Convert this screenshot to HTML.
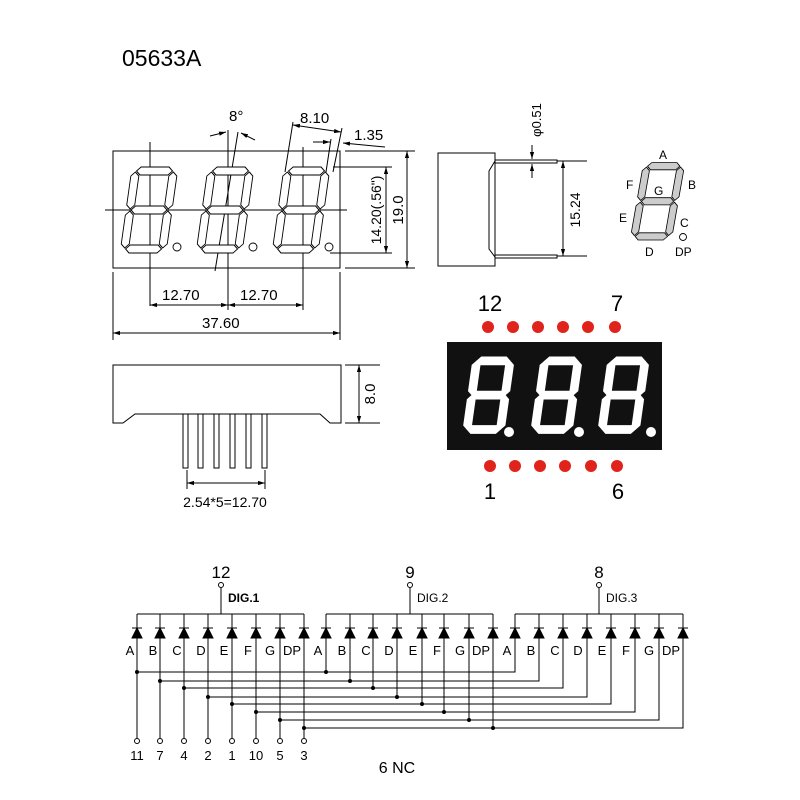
<!DOCTYPE html>
<html><head><meta charset="utf-8"><style>
html,body{margin:0;padding:0;background:#fff;}
svg{display:block;font-family:"Liberation Sans",Arial,sans-serif;}
</style></head><body>
<svg width="800" height="800" viewBox="0 0 800 800" xmlns="http://www.w3.org/2000/svg">
<defs>
<g id="dg">
<polygon points="5,-82 9,-86 37,-86 41,-82 37,-78 9,-78"/>
<polygon points="5,-43 9,-47 37,-47 41,-43 37,-39 9,-39"/>
<polygon points="5,-4 9,-8 37,-8 41,-4 37,0 9,0"/>
<polygon points="4,-81 8,-77 8,-48 4,-44 0,-48 0,-77"/>
<polygon points="4,-42 8,-38 8,-9 4,-5 0,-9 0,-38"/>
<polygon points="42,-81 46,-77 46,-48 42,-44 38,-48 38,-77"/>
<polygon points="42,-42 46,-38 46,-9 42,-5 38,-9 38,-38"/>
</g>
<marker id="ar" viewBox="0 0 10 10" refX="10" refY="5" markerWidth="7" markerHeight="7" orient="auto-start-reverse"><path d="M0,2 L10,5 L0,8 z" fill="#000"/></marker>
</defs>
<text x="122" y="66" font-size="23" fill="#000">05633A</text>

<!-- front view -->
<g fill="none" stroke="#000" stroke-width="1">
<rect x="113" y="151" width="227" height="117"/>
<line x1="105" y1="210" x2="347" y2="210"/>
<line x1="150" y1="142" x2="150" y2="306"/>
<line x1="228" y1="130" x2="228" y2="310"/>
<line x1="303" y1="147" x2="303" y2="310"/>
<line x1="215" y1="271" x2="238" y2="132"/>
<line x1="150" y1="305" x2="228" y2="305" marker-start="url(#ar)" marker-end="url(#ar)"/>
<line x1="228" y1="305" x2="303" y2="305" marker-start="url(#ar)" marker-end="url(#ar)"/>
<line x1="113" y1="272" x2="113" y2="340"/>
<line x1="340" y1="272" x2="340" y2="340"/>
<line x1="113" y1="333" x2="340" y2="333" marker-start="url(#ar)" marker-end="url(#ar)"/>
<line x1="345" y1="151" x2="415" y2="151"/>
<line x1="345" y1="268" x2="415" y2="268"/>
<line x1="333" y1="167" x2="392" y2="167"/>
<line x1="330" y1="253" x2="392" y2="253"/>
<line x1="386" y1="167" x2="386" y2="253" marker-start="url(#ar)" marker-end="url(#ar)"/>
<line x1="407" y1="151" x2="407" y2="268" marker-start="url(#ar)" marker-end="url(#ar)"/>
<line x1="210" y1="136" x2="226" y2="132" marker-end="url(#ar)"/>
<line x1="255" y1="140" x2="241" y2="133" marker-end="url(#ar)"/>
<line x1="293" y1="122" x2="285" y2="172"/>
<line x1="342" y1="128" x2="333" y2="172"/>
<line x1="293" y1="125" x2="341" y2="132" marker-start="url(#ar)" marker-end="url(#ar)"/>
<line x1="313" y1="142" x2="330" y2="142" marker-end="url(#ar)"/>
<line x1="331" y1="139" x2="326" y2="172"/>
<line x1="385" y1="147" x2="343" y2="143" marker-end="url(#ar)"/>
</g>
<g fill="#fff" stroke="#000" stroke-width="0.9">
<use href="#dg" transform="translate(120,253) skewX(-8)"/>
<use href="#dg" transform="translate(196,253) skewX(-8)"/>
<use href="#dg" transform="translate(272,253) skewX(-8)"/>
<circle cx="177" cy="247" r="4"/><circle cx="253" cy="247" r="4"/><circle cx="329" cy="247" r="4"/>
</g>
<g font-size="15" fill="#000">
<text x="229" y="121">8°</text>
<text x="300" y="123">8.10</text>
<text x="354" y="140">1.35</text>
<text x="162" y="300">12.70</text>
<text x="240" y="300">12.70</text>
<text x="202" y="328">37.60</text>
<text transform="translate(381,210) rotate(-90)" text-anchor="middle" font-size="14">14.20(.56")</text>
<text transform="translate(403,210) rotate(-90)" text-anchor="middle">19.0</text>
</g>

<!-- side view -->
<g fill="none" stroke="#000" stroke-width="1">
<rect x="438" y="153" width="57" height="113"/>
<path d="M495,161 L489,171 L489,249 L495,257"/>
<rect x="495" y="160" width="62" height="3"/>
<rect x="495" y="255" width="62" height="3"/>
<line x1="557" y1="161" x2="587" y2="161"/>
<line x1="557" y1="256" x2="587" y2="256"/>
<line x1="563" y1="161" x2="563" y2="256" marker-start="url(#ar)" marker-end="url(#ar)"/>
<line x1="532" y1="145" x2="532" y2="159" marker-end="url(#ar)"/>
<line x1="532" y1="178" x2="532" y2="164" marker-end="url(#ar)"/>
</g>
<text transform="translate(580,210) rotate(-90)" text-anchor="middle" font-size="14">15.24</text>
<text transform="translate(541,120) rotate(-90)" text-anchor="middle" font-size="13">φ0.51</text>

<!-- legend -->
<g fill="#ccc" stroke="#000" stroke-width="0.9">
<use href="#dg" transform="translate(630,240) scale(0.9) skewX(-10)"/>
<circle cx="683" cy="237" r="3.5" fill="#fff"/>
</g>
<g font-size="12" fill="#000">
<text x="659" y="159">A</text><text x="626" y="189">F</text><text x="654" y="195">G</text>
<text x="688" y="189">B</text><text x="619" y="222">E</text><text x="680" y="227">C</text>
<text x="645" y="256">D</text><text x="675" y="256">DP</text>
</g>

<!-- red display -->
<rect x="447" y="342" width="215" height="108" fill="#111"/>
<g fill="#fff" stroke="#fff" stroke-width="2">
<use href="#dg" transform="translate(463,433) scale(0.88) skewX(-8)"/>
<use href="#dg" transform="translate(531,433) scale(0.88) skewX(-8)"/>
<use href="#dg" transform="translate(598,433) scale(0.88) skewX(-8)"/>
</g>
<g fill="#fff"><circle cx="509" cy="432" r="5"/><circle cx="579" cy="432" r="5"/><circle cx="651" cy="432" r="5"/></g>
<g fill="#e0241b">
<circle cx="488" cy="327" r="6"/><circle cx="513" cy="327" r="6"/><circle cx="538" cy="327" r="6"/><circle cx="563" cy="327" r="6"/><circle cx="588" cy="327" r="6"/><circle cx="615" cy="327" r="6"/>
<circle cx="490" cy="466" r="6"/><circle cx="515" cy="466" r="6"/><circle cx="540" cy="466" r="6"/><circle cx="565" cy="466" r="6"/><circle cx="591" cy="466" r="6"/><circle cx="617" cy="466" r="6"/>
</g>
<g font-size="22" fill="#000" text-anchor="middle">
<text x="490" y="311">12</text><text x="617" y="311">7</text>
<text x="490" y="499">1</text><text x="618" y="499">6</text>
</g>

<!-- bottom view -->
<g fill="none" stroke="#000" stroke-width="1">
<path d="M113,365 L341,365 L341,423 L330,423 L320,414 L135,414 L123,423 L113,423 Z"/>
<rect x="183" y="414" width="5" height="54"/><rect x="198" y="414" width="5" height="54"/>
<rect x="214" y="414" width="5" height="54"/><rect x="230" y="414" width="5" height="54"/>
<rect x="246" y="414" width="5" height="54"/><rect x="262" y="414" width="5" height="54"/>
<line x1="187" y1="470" x2="187" y2="489"/><line x1="265" y1="470" x2="265" y2="489"/>
<line x1="187" y1="483" x2="265" y2="483" marker-start="url(#ar)" marker-end="url(#ar)"/>
<line x1="345" y1="365" x2="380" y2="365"/><line x1="345" y1="423" x2="380" y2="423"/>
<line x1="359" y1="365" x2="359" y2="423" marker-start="url(#ar)" marker-end="url(#ar)"/>
</g>
<text x="225" y="507" font-size="14" text-anchor="middle">2.54*5=12.70</text>
<text transform="translate(375,394) rotate(-90)" text-anchor="middle" font-size="15">8.0</text>

<!-- schematic -->
<g fill="none" stroke="#000" stroke-width="1">
<line x1="137" y1="614" x2="304" y2="614"/><line x1="221" y1="588" x2="221" y2="614"/>
<line x1="326" y1="614" x2="493" y2="614"/><line x1="410" y1="588" x2="410" y2="614"/>
<line x1="515" y1="614" x2="683" y2="614"/><line x1="599" y1="588" x2="599" y2="614"/>
<circle cx="221" cy="585" r="2.5" fill="#fff"/><circle cx="410" cy="585" r="2.5" fill="#fff"/><circle cx="599" cy="585" r="2.5" fill="#fff"/>
<line x1="137" y1="614" x2="137" y2="738"/><line x1="160" y1="614" x2="160" y2="738"/>
<line x1="184" y1="614" x2="184" y2="738"/><line x1="208" y1="614" x2="208" y2="738"/>
<line x1="232" y1="614" x2="232" y2="738"/><line x1="256" y1="614" x2="256" y2="738"/>
<line x1="280" y1="614" x2="280" y2="738"/><line x1="304" y1="614" x2="304" y2="738"/>
<line x1="326" y1="614" x2="326" y2="672"/><line x1="350" y1="614" x2="350" y2="681"/>
<line x1="373" y1="614" x2="373" y2="688"/><line x1="397" y1="614" x2="397" y2="697"/>
<line x1="422" y1="614" x2="422" y2="704"/><line x1="444" y1="614" x2="444" y2="712"/>
<line x1="469" y1="614" x2="469" y2="720"/><line x1="493" y1="614" x2="493" y2="728"/>
<path d="M515,614 V672 H137"/><path d="M539,614 V681 H160"/>
<path d="M563,614 V688 H184"/><path d="M587,614 V697 H208"/>
<path d="M611,614 V704 H232"/><path d="M635,614 V712 H256"/>
<path d="M659,614 V720 H280"/><path d="M683,614 V728 H304"/>
<g fill="#fff">
<circle cx="137" cy="741" r="2.5"/><circle cx="160" cy="741" r="2.5"/><circle cx="184" cy="741" r="2.5"/><circle cx="208" cy="741" r="2.5"/>
<circle cx="232" cy="741" r="2.5"/><circle cx="256" cy="741" r="2.5"/><circle cx="280" cy="741" r="2.5"/><circle cx="304" cy="741" r="2.5"/>
</g>
</g>
<g fill="#000">
<circle cx="137" cy="672" r="2"/><circle cx="326" cy="672" r="2"/>
<circle cx="160" cy="681" r="2"/><circle cx="350" cy="681" r="2"/>
<circle cx="184" cy="688" r="2"/><circle cx="373" cy="688" r="2"/>
<circle cx="208" cy="697" r="2"/><circle cx="397" cy="697" r="2"/>
<circle cx="232" cy="704" r="2"/><circle cx="422" cy="704" r="2"/>
<circle cx="256" cy="712" r="2"/><circle cx="444" cy="712" r="2"/>
<circle cx="280" cy="720" r="2"/><circle cx="469" cy="720" r="2"/>
<circle cx="304" cy="728" r="2"/><circle cx="493" cy="728" r="2"/>
</g>
<g fill="#000" stroke="#000" stroke-width="1">
<path d="M132,638 L142,638 L137,628 Z M132,628 H142"/>
<path d="M155,638 L165,638 L160,628 Z M155,628 H165"/>
<path d="M179,638 L189,638 L184,628 Z M179,628 H189"/>
<path d="M203,638 L213,638 L208,628 Z M203,628 H213"/>
<path d="M227,638 L237,638 L232,628 Z M227,628 H237"/>
<path d="M251,638 L261,638 L256,628 Z M251,628 H261"/>
<path d="M275,638 L285,638 L280,628 Z M275,628 H285"/>
<path d="M299,638 L309,638 L304,628 Z M299,628 H309"/>
<path d="M321,638 L331,638 L326,628 Z M321,628 H331"/>
<path d="M345,638 L355,638 L350,628 Z M345,628 H355"/>
<path d="M368,638 L378,638 L373,628 Z M368,628 H378"/>
<path d="M392,638 L402,638 L397,628 Z M392,628 H402"/>
<path d="M417,638 L427,638 L422,628 Z M417,628 H427"/>
<path d="M439,638 L449,638 L444,628 Z M439,628 H449"/>
<path d="M464,638 L474,638 L469,628 Z M464,628 H474"/>
<path d="M488,638 L498,638 L493,628 Z M488,628 H498"/>
<path d="M510,638 L520,638 L515,628 Z M510,628 H520"/>
<path d="M534,638 L544,638 L539,628 Z M534,628 H544"/>
<path d="M558,638 L568,638 L563,628 Z M558,628 H568"/>
<path d="M582,638 L592,638 L587,628 Z M582,628 H592"/>
<path d="M606,638 L616,638 L611,628 Z M606,628 H616"/>
<path d="M630,638 L640,638 L635,628 Z M630,628 H640"/>
<path d="M654,638 L664,638 L659,628 Z M654,628 H664"/>
<path d="M678,638 L688,638 L683,628 Z M678,628 H688"/>
</g>
<g font-size="13" fill="#000" text-anchor="middle" stroke="#fff" stroke-width="3" paint-order="stroke">
<text x="130" y="655">A</text><text x="153" y="655">B</text><text x="177" y="655">C</text><text x="201" y="655">D</text>
<text x="224" y="655">E</text><text x="248" y="655">F</text><text x="270" y="655">G</text><text x="292" y="655">DP</text>
<text x="318" y="655">A</text><text x="342" y="655">B</text><text x="366" y="655">C</text><text x="389" y="655">D</text>
<text x="413" y="655">E</text><text x="437" y="655">F</text><text x="460" y="655">G</text><text x="481" y="655">DP</text>
<text x="507" y="655">A</text><text x="531" y="655">B</text><text x="555" y="655">C</text><text x="578" y="655">D</text>
<text x="602" y="655">E</text><text x="626" y="655">F</text><text x="649" y="655">G</text><text x="671" y="655">DP</text>
</g>
<g font-size="12" fill="#000">
<text x="228" y="602" font-weight="bold">DIG.1</text>
<text x="417" y="602">DIG.2</text>
<text x="606" y="602">DIG.3</text>
</g>
<g font-size="17" fill="#000" text-anchor="middle">
<text x="221" y="578">12</text><text x="410" y="578">9</text><text x="599" y="578">8</text>
</g>
<g font-size="13" fill="#000" text-anchor="middle">
<text x="137" y="760">11</text><text x="160" y="760">7</text><text x="184" y="760">4</text><text x="208" y="760">2</text>
<text x="232" y="760">1</text><text x="256" y="760">10</text><text x="280" y="760">5</text><text x="304" y="760">3</text>
</g>
<text x="397" y="773" font-size="16" text-anchor="middle">6 NC</text>
</svg>
</body></html>
